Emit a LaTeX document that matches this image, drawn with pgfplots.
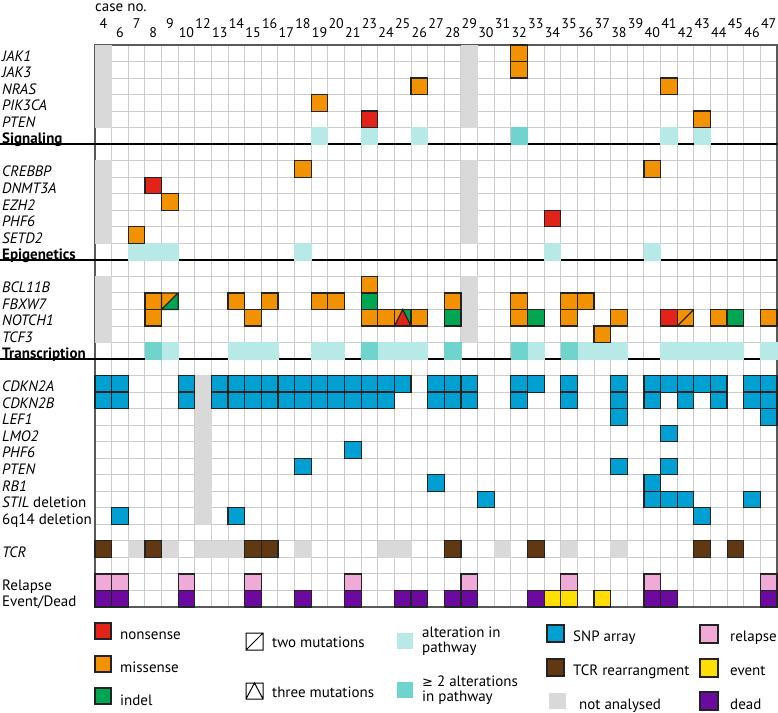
\documentclass[border=0pt]{standalone}
\usepackage{fontspec}
\setmainfont{PT Sans}
\newfontfamily\dejavu{DejaVu Sans}
\usepackage{pgfplots}
\pgfplotsset{compat=1.18}

\definecolor{nons}{RGB}{226,35,26}
\definecolor{miss}{RGB}{243,146,0}
\definecolor{indel}{RGB}{0,166,81}
\definecolor{pathA}{RGB}{183,234,231}
\definecolor{pathB}{RGB}{112,212,206}
\definecolor{snp}{RGB}{0,160,210}
\definecolor{tcr}{RGB}{96,57,19}
\definecolor{na}{RGB}{217,217,217}
\definecolor{rel}{RGB}{240,170,215}
\definecolor{evt}{RGB}{255,222,0}
\definecolor{dead}{RGB}{108,10,160}
\definecolor{edge}{RGB}{35,35,35}

\newcommand{\up}[1]{\raisebox{9pt}{#1}}

% split cells: two mutations (missense / indel)
\pgfdeclareplotmark{twoOG}{%
  \pgfpathmoveto{\pgfqpoint{-\pgfplotmarksize}{-\pgfplotmarksize}}%
  \pgfpathlineto{\pgfqpoint{-\pgfplotmarksize}{\pgfplotmarksize}}%
  \pgfpathlineto{\pgfqpoint{\pgfplotmarksize}{\pgfplotmarksize}}%
  \pgfpathclose
  \pgfsetfillcolor{miss}\pgfusepath{fill}%
  \pgfpathmoveto{\pgfqpoint{-\pgfplotmarksize}{-\pgfplotmarksize}}%
  \pgfpathlineto{\pgfqpoint{\pgfplotmarksize}{-\pgfplotmarksize}}%
  \pgfpathlineto{\pgfqpoint{\pgfplotmarksize}{\pgfplotmarksize}}%
  \pgfpathclose
  \pgfsetfillcolor{indel}\pgfusepath{fill}%
  \pgfpathrectangle{\pgfqpoint{-\pgfplotmarksize}{-\pgfplotmarksize}}{\pgfqpoint{2\pgfplotmarksize}{2\pgfplotmarksize}}%
  \pgfpathmoveto{\pgfqpoint{-\pgfplotmarksize}{-\pgfplotmarksize}}%
  \pgfpathlineto{\pgfqpoint{\pgfplotmarksize}{\pgfplotmarksize}}%
  \pgfusepath{stroke}%
}
% two missense mutations
\pgfdeclareplotmark{twoOO}{%
  \pgfpathrectangle{\pgfqpoint{-\pgfplotmarksize}{-\pgfplotmarksize}}{\pgfqpoint{2\pgfplotmarksize}{2\pgfplotmarksize}}%
  \pgfsetfillcolor{miss}\pgfusepath{fill,stroke}%
  \pgfpathmoveto{\pgfqpoint{-\pgfplotmarksize}{-\pgfplotmarksize}}%
  \pgfpathlineto{\pgfqpoint{\pgfplotmarksize}{\pgfplotmarksize}}%
  \pgfusepath{stroke}%
}
% three mutations
\pgfdeclareplotmark{threeM}{%
  \pgfpathmoveto{\pgfqpoint{-\pgfplotmarksize}{-\pgfplotmarksize}}%
  \pgfpathlineto{\pgfqpoint{-\pgfplotmarksize}{\pgfplotmarksize}}%
  \pgfpathlineto{\pgfqpoint{0pt}{\pgfplotmarksize}}%
  \pgfpathclose
  \pgfsetfillcolor{miss}\pgfusepath{fill}%
  \pgfpathmoveto{\pgfqpoint{\pgfplotmarksize}{-\pgfplotmarksize}}%
  \pgfpathlineto{\pgfqpoint{\pgfplotmarksize}{\pgfplotmarksize}}%
  \pgfpathlineto{\pgfqpoint{0pt}{\pgfplotmarksize}}%
  \pgfpathclose
  \pgfsetfillcolor{indel}\pgfusepath{fill}%
  \pgfpathmoveto{\pgfqpoint{-\pgfplotmarksize}{-\pgfplotmarksize}}%
  \pgfpathlineto{\pgfqpoint{0pt}{\pgfplotmarksize}}%
  \pgfpathlineto{\pgfqpoint{\pgfplotmarksize}{-\pgfplotmarksize}}%
  \pgfpathclose
  \pgfsetfillcolor{nons}\pgfusepath{fill,stroke}%
  \pgfpathrectangle{\pgfqpoint{-\pgfplotmarksize}{-\pgfplotmarksize}}{\pgfqpoint{2\pgfplotmarksize}{2\pgfplotmarksize}}%
  \pgfusepath{stroke}%
}

\pgfplotsset{
  cell/.style={only marks, mark=square*, mark size=8.3pt,
    mark options={draw=edge, line width=1.2pt, fill=#1}},
  bg/.style={only marks, mark=square*, mark size=8.2pt,
    mark options={draw=#1, line width=0.6pt, fill=#1}},
}

\begin{document}
\begin{tikzpicture}
\path[use as bounding box] (-95pt,-105pt) rectangle (683pt,607pt);
\begin{axis}[
  at={(0,0)}, anchor=south west,
  scale only axis, width=682pt, height=562pt,
  xmin=-0.5, xmax=40.5, ymin=-0.5, ymax=33.5, y dir=reverse,
  axis line style={draw=black!65, line width=1.3pt},
  xtick={0,...,40}, ytick={0,...,33},
  minor xtick={-0.5,0.5,...,40.5}, minor ytick={-0.5,0.5,...,33.5},
  xminorgrids=true, yminorgrids=true,
  minor grid style={gray!40, line width=1pt},
  major tick length=0pt, minor tick length=0pt,
  xticklabel pos=upper,
  xticklabels={\up{4},6,\up{7},8,\up{9},10,\up{12},13,\up{14},15,\up{16},17,\up{18},19,\up{20},21,\up{23},24,\up{25},26,\up{27},28,\up{29},30,\up{31},32,\up{33},34,\up{35},36,\up{37},38,\up{39},40,\up{41},42,\up{43},44,\up{45},46,\up{47}},
  yticklabels={\textit{JAK1}, \textit{JAK3}, \textit{NRAS}, \textit{PIK3CA}, \textit{PTEN}, \textbf{Signaling}, {},
    \textit{CREBBP}, \textit{DNMT3A}, \textit{EZH2}, \textit{PHF6}, \textit{SETD2}, \textbf{Epigenetics}, {},
    \textit{BCL11B}, \textit{FBXW7}, \textit{NOTCH1}, \textit{TCF3}, \textbf{Transcription}, {},
    \textit{CDKN2A}, \textit{CDKN2B}, \textit{LEF1}, \textit{LMO2}, \textit{PHF6}, \textit{PTEN}, \textit{RB1},
    {\textit{STIL} deletion}, {6q14 deletion}, {}, \textit{TCR}, {}, Relapse, Event/Dead},
  xticklabel style={anchor=base, inner sep=0pt, yshift=8pt, font=\fontsize{14}{16}\selectfont},
  yticklabel style={anchor=base west, inner sep=0pt, xshift=-93pt, yshift=-8pt, font=\fontsize{15}{17}\selectfont},
  clip=false,
]
% not analysed
\addplot[bg=na] coordinates {
  (0,0)(0,1)(0,2)(0,3)(0,4)(22,0)(22,1)(22,2)(22,3)(22,4)
  (0,7)(0,8)(0,9)(0,10)(0,11)(22,7)(22,8)(22,9)(22,10)(22,11)
  (0,14)(0,15)(0,16)(0,17)(22,14)(22,15)(22,16)(22,17)
  (6,20)(6,21)(6,22)(6,23)(6,24)(6,25)(6,26)(6,27)(6,28)
  (2,30)(4,30)(6,30)(7,30)(8,30)(12,30)(17,30)(18,30)(24,30)(28,30)(31,30)};
% alteration in pathway
\addplot[bg=pathA] coordinates {
  (13,5)(16,5)(19,5)(34,5)(36,5)
  (2,12)(3,12)(4,12)(12,12)(27,12)(33,12)
  (4,18)(8,18)(9,18)(10,18)(13,18)(14,18)(17,18)(18,18)(19,18)(26,18)
  (29,18)(30,18)(31,18)(34,18)(35,18)(36,18)(37,18)(38,18)(40,18)};
% >= 2 alterations in pathway
\addplot[bg=pathB] coordinates {
  (25,5)(3,18)(16,18)(21,18)(25,18)(28,18)};
% missense
\addplot[cell=miss] coordinates {
  (25,0)(25,1)(19,2)(34,2)(13,3)(36,4)
  (12,7)(33,7)(4,9)(2,11)
  (16,14)
  (3,15)(8,15)(10,15)(13,15)(14,15)(21,15)(25,15)(28,15)(29,15)
  (3,16)(9,16)(16,16)(17,16)(19,16)(25,16)(28,16)(31,16)(37,16)(40,16)
  (30,17)};
% nonsense
\addplot[cell=nons] coordinates {(16,4)(3,8)(27,10)(34,16)};
% indel
\addplot[cell=indel] coordinates {(16,15)(21,16)(26,16)(38,16)};
% multiple mutations
\addplot[only marks, mark=twoOG, mark size=8.3pt, mark options={draw=edge, line width=1.2pt}] coordinates {(4,15)};
\addplot[only marks, mark=twoOO, mark size=8.3pt, mark options={draw=edge, line width=1.2pt}] coordinates {(35,16)};
\addplot[only marks, mark=threeM, mark size=8.3pt, mark options={draw=edge, line width=1.2pt}] coordinates {(18,16)};
% SNP array
\addplot[cell=snp] coordinates {
  (0,20)(1,20)(5,20)(7,20)(8,20)(9,20)(10,20)(11,20)(12,20)(13,20)(14,20)(15,20)(16,20)(17,20)(18,20)
  (20,20)(21,20)(22,20)(25,20)(26,20)(28,20)(31,20)(33,20)(34,20)(35,20)(36,20)(37,20)(39,20)(40,20)
  (0,21)(1,21)(5,21)(7,21)(8,21)(9,21)(10,21)(11,21)(12,21)(13,21)(14,21)(15,21)(16,21)(17,21)
  (20,21)(21,21)(22,21)(25,21)(28,21)(31,21)(33,21)(35,21)(37,21)(39,21)(40,21)
  (31,22)(40,22)
  (34,23)
  (15,24)
  (12,25)(31,25)(34,25)
  (20,26)(33,26)
  (23,27)(33,27)(34,27)(35,27)(39,27)
  (1,28)(8,28)(36,28)};
% TCR rearrangement
\addplot[cell=tcr] coordinates {(0,30)(3,30)(9,30)(10,30)(21,30)(26,30)(36,30)(38,30)};
% relapse
\addplot[cell=rel] coordinates {(0,32)(1,32)(5,32)(9,32)(15,32)(22,32)(28,32)(33,32)(40,32)};
% dead
\addplot[cell=dead] coordinates {(0,33)(1,33)(5,33)(9,33)(12,33)(15,33)(18,33)(19,33)(21,33)(22,33)(26,33)(33,33)(34,33)(40,33)};
% event
\addplot[cell=evt] coordinates {(27,33)(28,33)(30,33)};

\draw[black, line width=1.4pt] ([xshift=-95pt]axis cs:-0.5,5.5) -- (axis cs:40.5,5.5);
\draw[black, line width=1.4pt] ([xshift=-95pt]axis cs:-0.5,12.5) -- (axis cs:40.5,12.5);
\draw[black, line width=1.4pt] ([xshift=-95pt]axis cs:-0.5,18.5) -- (axis cs:40.5,18.5);
\node[anchor=base west, inner sep=0pt, font=\fontsize{15}{17}\selectfont] at ([yshift=34pt]axis cs:-0.5,-0.5) {case no.};
\end{axis}

% legend, in image pixel coordinates
\begin{scope}[shift={(-95pt,607pt)}, x=1pt, y=-1pt, font=\fontsize{15}{17}\selectfont]
\filldraw[fill=nons, draw=edge, line width=1.2pt] (95,623) rectangle (111,639);
\node[anchor=base west, inner sep=0pt] at (120,639) {nonsense};
\filldraw[fill=miss, draw=edge, line width=1.2pt] (95,656) rectangle (111,672);
\node[anchor=base west, inner sep=0pt] at (120,672.5) {missense};
\filldraw[fill=indel, draw=edge, line width=1.2pt] (95,688) rectangle (111,704);
\node[anchor=base west, inner sep=0pt] at (120,705) {indel};

\draw[black, line width=1pt] (246,633) rectangle (263,650) (246,650) -- (263,633);
\node[anchor=base west, inner sep=0pt] at (272,647.3) {two mutations};
\draw[black, line width=1pt] (246,683) rectangle (263,699) (246,699) -- (254.5,683) -- (263,699);
\node[anchor=base west, inner sep=0pt] at (272,697.3) {three mutations};

\fill[pathA] (397,633) rectangle (413,649);
\node[anchor=base west, inner sep=0pt] at (422,637.3) {alteration in};
\node[anchor=base west, inner sep=0pt] at (422,652.7) {pathway};
\fill[pathB] (397,682) rectangle (413,698);
\node[anchor=base west, inner sep=0pt] at (422,686) {{\dejavu\fontsize{13}{15}\selectfont ≥} 2 alterations};
\node[anchor=base west, inner sep=0pt] at (422,701) {in pathway};

\filldraw[fill=snp, draw=edge, line width=1.2pt] (547,625) rectangle (564,642);
\node[anchor=base west, inner sep=0pt] at (573,641.7) {SNP array};
\filldraw[fill=tcr, draw=edge, line width=1.2pt] (547,659) rectangle (564,676);
\node[anchor=base west, inner sep=0pt] at (573,675) {TCR rearrangment};
\fill[na] (549,693) rectangle (566,709);
\node[anchor=base west, inner sep=0pt] at (579,709.3) {not analysed};

\filldraw[fill=rel, draw=edge, line width=1.2pt] (700,625) rectangle (718,643);
\node[anchor=base west, inner sep=0pt] at (730,641.7) {relapse};
\filldraw[fill=evt, draw=edge, line width=1.2pt] (700,659) rectangle (718,677);
\node[anchor=base west, inner sep=0pt] at (730,675) {event};
\filldraw[fill=dead, draw=edge, line width=1.2pt] (700,692) rectangle (718,710);
\node[anchor=base west, inner sep=0pt] at (730,709.3) {dead};
\end{scope}
\end{tikzpicture}
\end{document}
